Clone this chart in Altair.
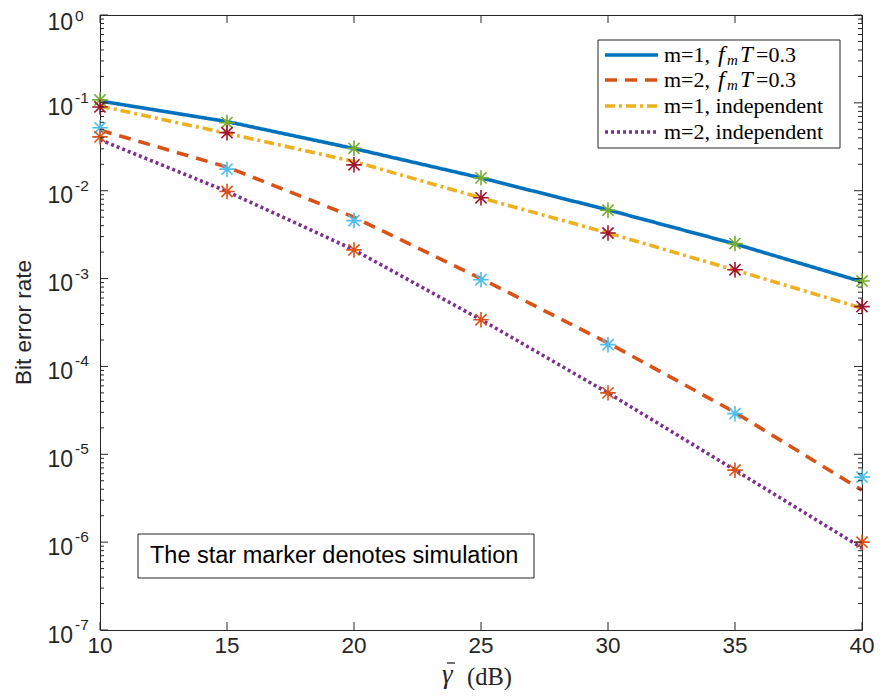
import altair as alt
import pandas as pd

# ---------------- data ----------------
snr_db = [10, 15, 20, 25, 30, 35, 40]

# analytical curves
ber_m1_fmT = [0.105, 0.0612, 0.0302, 0.0140, 0.00605, 0.00248, 0.00092]
ber_m2_fmT = [0.049, 0.0186, 0.0050, 0.00100, 1.85e-4, 3.0e-5, 3.9e-6]
ber_m1_ind = [0.092, 0.0450, 0.0215, 0.0083, 0.0033, 0.00125, 0.00046]
ber_m2_ind = [0.038, 0.0098, 0.00212, 3.4e-4, 5.0e-5, 6.6e-6, 8.6e-7]

# simulation (star markers)
sim_m1_fmT = [0.108, 0.0596, 0.0304, 0.0140, 0.0060, 0.0025, 0.00094]
sim_m1_ind = [0.0898, 0.0458, 0.0197, 0.0083, 0.0033, 0.00126, 0.00048]
sim_m2_fmT = [0.052, 0.0176, 0.00457, 0.00097, 1.77e-4, 2.9e-5, 5.5e-6]
sim_m2_ind = [0.041, 0.0098, 0.00212, 3.4e-4, 5.0e-5, 6.6e-6, 1.0e-6]

x_ticks = [10, 15, 20, 25, 30, 35, 40]
y_exps = [0, -1, -2, -3, -4, -5, -6, -7]

series_names = ["m=1, fmT=0.3", "m=2, fmT=0.3", "m=1, independent", "m=2, independent"]
line_colors = ["#0072BD", "#D95319", "#EDB120", "#7E2F8E"]
line_dashes = [[1, 0], [12, 8], [10, 4, 3, 4], [3, 3]]
sim_colors = ["#77AC30", "#4DBEEE", "#A2142F", "#D95319"]

W, H = 762, 615
AX = "#262626"
SANS = "Liberation Sans"
SERIF = "Liberation Serif"

xs = alt.Scale(domain=[10, 40], nice=False, zero=False)
ys = alt.Scale(type="log", domain=[1e-7, 1], nice=False)

curves = [ber_m1_fmT, ber_m2_fmT, ber_m1_ind, ber_m2_ind]
sims = [sim_m1_fmT, sim_m2_fmT, sim_m1_ind, sim_m2_ind]

layers = []
for name, vals, col, dash in zip(series_names, curves, line_colors, line_dashes):
    df = pd.DataFrame({"snr": snr_db, "ber": vals})
    layers.append(
        alt.Chart(df).mark_line(color=col, strokeWidth=3.6, strokeDash=dash, strokeCap="butt", clip=True)
        .encode(x=alt.X("snr:Q", scale=xs, axis=None), y=alt.Y("ber:Q", scale=ys, axis=None))
    )

star = "M-1,0L1,0M0,-1L0,1M-0.72,-0.72L0.72,0.72M-0.72,0.72L0.72,-0.72"
for vals, col in zip(sims, sim_colors):
    df = pd.DataFrame({"snr": snr_db, "ber": vals})
    layers.append(
        alt.Chart(df).mark_point(shape=star, filled=False, color=col, size=240, strokeWidth=1.6, opacity=1)
        .encode(x=alt.X("snr:Q", scale=xs, axis=None), y=alt.Y("ber:Q", scale=ys, axis=None))
    )

# ---------------- ticks ----------------
major_df = pd.DataFrame({"v": [10.0 ** e for e in y_exps],
                         "e": y_exps,
                         "base": ["10"] * len(y_exps),
                         "ex": [str(e) for e in y_exps]})
minor_vals = []
for e in range(-7, 0):
    for m in range(2, 10):
        minor_vals.append(m * 10.0 ** e)
minor_df = pd.DataFrame({"v": minor_vals})
xt_df = pd.DataFrame({"x": x_ticks, "lab": [str(t) for t in x_ticks]})

def yrule(df, x0, x1):
    return alt.Chart(df).mark_rule(color=AX, strokeWidth=1).encode(
        y=alt.Y("v:Q", scale=ys, axis=None), x=alt.value(x0), x2=alt.value(x1))

layers += [
    yrule(major_df, 0, 8), yrule(major_df, W - 8, W),
    yrule(minor_df, 0, 4), yrule(minor_df, W - 4, W),
    alt.Chart(xt_df).mark_rule(color=AX, strokeWidth=1).encode(
        x=alt.X("x:Q", scale=xs, axis=None), y=alt.value(H), y2=alt.value(H - 8)),
    alt.Chart(xt_df).mark_rule(color=AX, strokeWidth=1).encode(
        x=alt.X("x:Q", scale=xs, axis=None), y=alt.value(0), y2=alt.value(8)),
]

# y tick labels (10 with superscript exponent)
def ylab(cond, field, dx, dy, fs, align):
    return (alt.Chart(major_df).transform_filter(cond)
            .mark_text(font=SANS, fontSize=fs, color=AX, align=align, baseline="middle", dy=dy)
            .encode(y=alt.Y("v:Q", scale=ys, axis=None), x=alt.value(dx), text=f"{field}:N"))

layers += [
    ylab("datum.e < 0", "base", -27, 5.5, 23, "right"),
    ylab("datum.e < 0", "ex", -25, -5, 15.5, "left"),
    ylab("datum.e == 0", "base", -27, 7.5, 23, "right"),
    ylab("datum.e == 0", "ex", -25, 0.5, 15.5, "left"),
    alt.Chart(xt_df).mark_text(font=SANS, fontSize=22.5, color=AX, align="center", baseline="middle")
    .encode(x=alt.X("x:Q", scale=xs, axis=None), y=alt.value(H + 16), text="lab:N"),
]

dummy = pd.DataFrame({"a": [0]})

def txt(s, x, y, **kw):
    return alt.Chart(dummy).mark_text(text=s, **kw).encode(x=alt.value(x), y=alt.value(y))

# axis titles
layers += [
    txt("γ", 342, H + 53, font=SERIF, fontSize=27, fontStyle="italic", color=AX, align="left", baseline="alphabetic"),
    alt.Chart(dummy).mark_rule(color=AX, strokeWidth=1.3).encode(
        x=alt.value(347), x2=alt.value(355), y=alt.value(H + 33)),
    txt("(dB)", 367, H + 55, font=SERIF, fontSize=24.5, color=AX, align="left", baseline="alphabetic"),
    txt("Bit error rate", -76, H / 2, font=SANS, fontSize=22.5, color=AX, align="center",
        baseline="middle", angle=270),
]

# ---------------- legend ----------------
layers.append(
    alt.Chart(dummy).mark_rect(fill="white", stroke=AX, strokeWidth=1).encode(
        x=alt.value(498), x2=alt.value(740), y=alt.value(25), y2=alt.value(133))
)
rows = [40, 65, 91, 117]
for ry, col, dash in zip(rows, line_colors, line_dashes):
    layers.append(
        alt.Chart(dummy).mark_rule(color=col, strokeWidth=3.6, strokeDash=dash, strokeCap="butt").encode(
            x=alt.value(505), x2=alt.value(558), y=alt.value(ry))
    )
LF = 22
for i, ry in enumerate(rows[:2]):
    mval = "1" if i == 0 else "2"
    layers += [
        txt(f"m={mval}, ", 564, ry, font=SERIF, fontSize=LF, color="black", align="left", baseline="middle"),
        txt("f", 618, ry, font=SERIF, fontSize=24, fontStyle="italic", color="black", align="left", baseline="middle"),
        txt("m", 627, ry + 5, font=SERIF, fontSize=15, fontStyle="italic", color="black", align="left", baseline="middle"),
        txt("T", 640, ry, font=SERIF, fontSize=23, fontStyle="italic", color="black", align="left", baseline="middle"),
        txt("=0.3", 656, ry, font=SERIF, fontSize=LF, color="black", align="left", baseline="middle"),
    ]
layers += [
    txt("m=1, independent", 564, rows[2], font=SERIF, fontSize=LF, color="black", align="left", baseline="middle"),
    txt("m=2, independent", 564, rows[3], font=SERIF, fontSize=LF, color="black", align="left", baseline="middle"),
]

# ---------------- annotation ----------------
layers += [
    alt.Chart(dummy).mark_rect(fill="white", stroke=AX, strokeWidth=1).encode(
        x=alt.value(38), x2=alt.value(434), y=alt.value(519), y2=alt.value(563)),
    txt("The star marker denotes simulation", 50, 541, font=SANS, fontSize=23.5, color="black",
        align="left", baseline="middle"),
]

chart = alt.layer(*layers).properties(
    width=W, height=H,
    autosize=alt.AutoSizeParams(type="none"),
    padding={"left": 92, "top": 7, "right": 12, "bottom": 60},
    background="white",
).configure_view(stroke=AX, strokeWidth=1)

chart.save("out.html", embed_options={"renderer": "svg", "actions": False})
